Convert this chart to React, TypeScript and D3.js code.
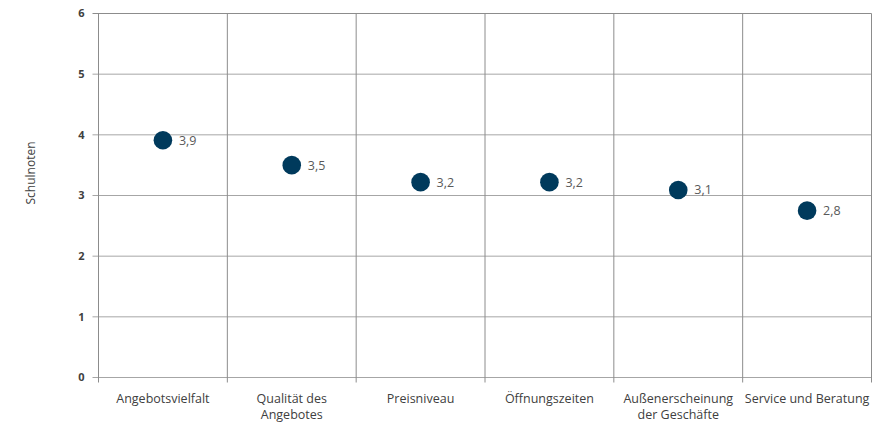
import React from "react";
import * as d3 from "d3";

const categories = [
  ["Angebotsvielfalt"],
  ["Qualität des", "Angebotes"],
  ["Preisniveau"],
  ["Öffnungszeiten"],
  ["Außenerscheinung", "der Geschäfte"],
  ["Service und Beratung"],
];
const values = [3.91, 3.5, 3.22, 3.22, 3.09, 2.75];
const valueLabels = ["3,9", "3,5", "3,2", "3,2", "3,1", "2,8"];
const yTicks = [0, 1, 2, 3, 4, 5, 6];
const yTitle = "Schulnoten";

const W = 873;
const H = 423;
const margin = { left: 98.5, right: 1.5, top: 13.5, bottom: 45.5 };
const font = "'Open Sans', 'Segoe UI', sans-serif";

export default function App() {
  const x = d3
    .scaleBand<number>()
    .domain(d3.range(categories.length))
    .range([margin.left, W - margin.right]);
  const y = d3.scaleLinear().domain([0, 6]).range([H - margin.bottom, margin.top]);
  const bw = x.bandwidth();
  const boundaries = d3.range(categories.length + 1).map((i) => margin.left + i * bw);

  return (
    <svg
      width={W}
      height={H}
      style={{ position: "absolute", left: 0, top: 0, fontFamily: font }}
    >
      <rect width={W} height={H} fill="#fff" />
      {yTicks.map((t) => (
        <g key={t}>
          <line
            x1={margin.left - 6}
            x2={W - margin.right}
            y1={y(t)}
            y2={y(t)}
            stroke={t === 6 ? "#8c8c8c" : "#a6a6a6"}
            strokeWidth={1}
          />
          <text
            x={margin.left - 14}
            y={y(t)}
            dy="0.35em"
            textAnchor="end"
            fontSize={11}
            fontWeight={700}
            fill="#404040"
          >
            {t}
          </text>
        </g>
      ))}
      {boundaries.map((bx, i) => (
        <line
          key={i}
          x1={bx}
          x2={bx}
          y1={margin.top}
          y2={y(0) + 5}
          stroke="#8c8c8c"
          strokeWidth={1}
        />
      ))}
      {categories.map((lines, i) => (
        <text
          key={i}
          x={(x(i) as number) + bw / 2}
          y={403}
          textAnchor="middle"
          fontSize={12.5}
          fill="#404040"
        >
          {lines.map((l, j) => (
            <tspan key={j} x={(x(i) as number) + bw / 2} dy={j === 0 ? 0 : 16}>
              {l}
            </tspan>
          ))}
        </text>
      ))}
      {values.map((v, i) => {
        const cx = (x(i) as number) + bw / 2;
        const cy = y(v);
        return (
          <g key={i}>
            <circle cx={cx} cy={cy} r={9.3} fill="#003a5c" />
            <text x={cx + 16} y={cy} dy="0.35em" fontSize={12.5} fill="#595959">
              {valueLabels[i]}
            </text>
          </g>
        );
      })}
      <text
        transform={`translate(31, ${173}) rotate(-90)`}
        textAnchor="middle"
        dy="0.35em"
        fontSize={12}
        fill="#404040"
      >
        {yTitle}
      </text>
    </svg>
  );
}
